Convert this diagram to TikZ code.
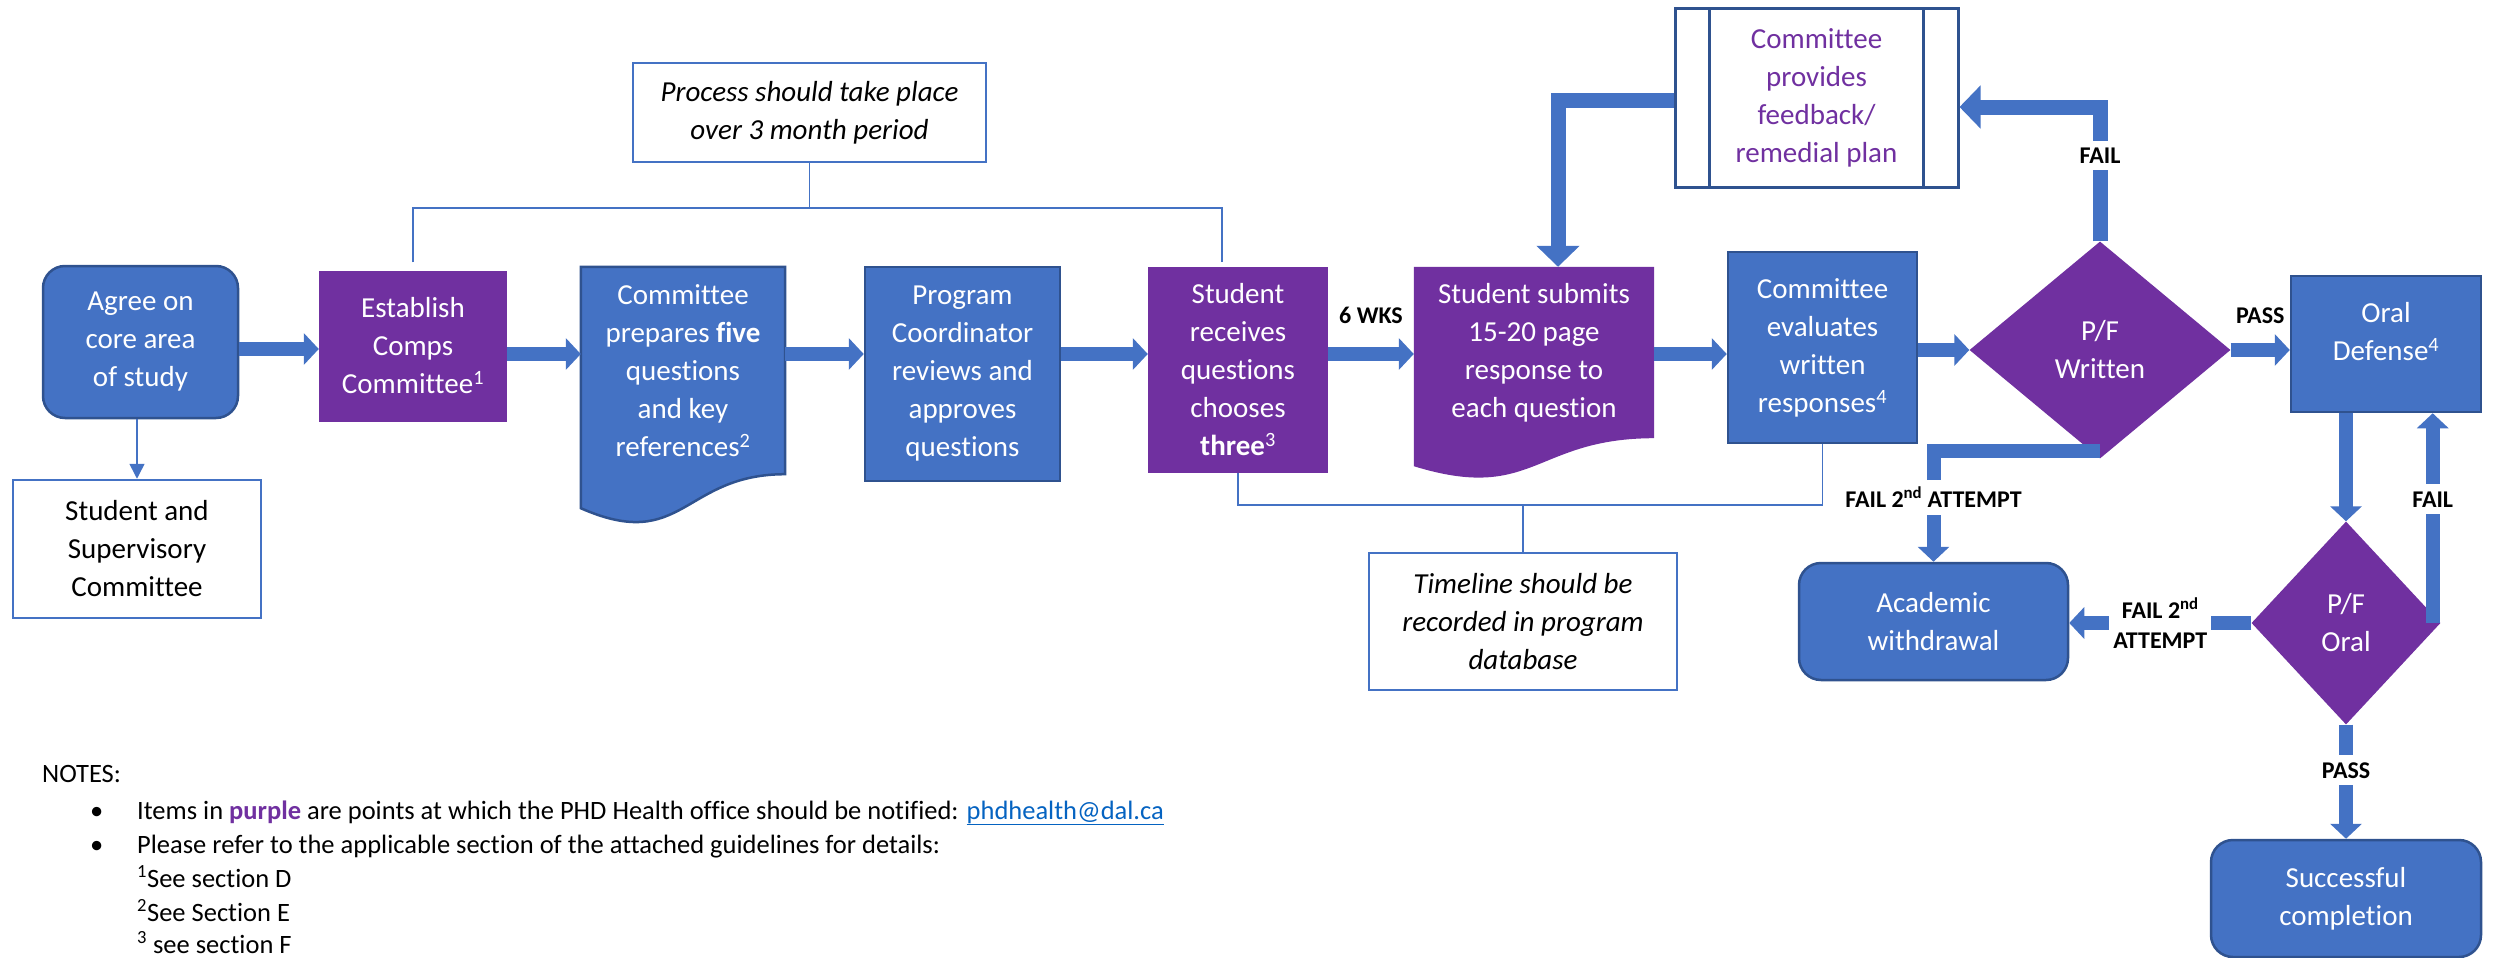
\documentclass[tikz,border=0pt]{standalone}
\usepackage{fontspec}
\setmainfont{Carlito}[Ligatures=CommonOff]
\usepackage{xcolor}
\usepackage{tikz}
\usetikzlibrary{calc,arrows.meta,shapes.geometric,positioning,backgrounds}
\definecolor{flowblue}{HTML}{4472C4}
\definecolor{flowedge}{HTML}{2F528F}
\definecolor{flowpurple}{HTML}{7030A0}
\definecolor{linkblue}{HTML}{0563C1}
\tikzset{
  boxfont/.style={font=\fontsize{29}{38}\selectfont},
  bluebox/.style={boxfont, fill=flowblue, draw=flowedge, line width=2.5pt, text=white, align=center, inner sep=0pt},
  roundbox/.style={bluebox, rounded corners=22pt},
  purplebox/.style={boxfont, fill=flowpurple, text=white, align=center, inner sep=0pt},
  doctext/.style={boxfont, text=white, align=center, inner sep=0pt},
  notebox/.style={boxfont, fill=white, draw=flowblue, line width=2.5pt, align=center, inner sep=0pt},
  decision/.style={boxfont, diamond, fill=flowpurple, text=white, align=center, inner sep=0pt},
  flowarrow/.style={draw=flowblue, line width=14pt, line join=miter, -{Triangle[length=15pt,width=31pt]}},
  looparrow/.style={draw=flowblue, line width=15pt, line join=miter, -{Triangle[length=21pt,width=42pt]}},
  bracket/.style={draw=flowblue, line width=1.5pt},
  flowtag/.style={font=\fontsize{24}{30}\selectfont\bfseries, fill=white, inner xsep=4pt, inner ysep=7pt, align=center},
  notetext/.style={font=\fontsize{26.5}{35}\selectfont, anchor=base west, inner sep=0pt},
}

\begin{document}
\begin{tikzpicture}[x=1pt,y=-1pt]
  \useasboundingbox (0,0) rectangle (2497,958);

  % main row
  \node[roundbox, minimum width=195pt, minimum height=152pt] (agree) at (140.5,342) {Agree on\\core area\\of study};
  \node[notebox, minimum width=248pt, minimum height=138pt] (sup) at (137,549) {Student and\\Supervisory\\Committee};
  \node[purplebox, minimum width=188pt, minimum height=151pt] (establish) at (413,346) {Establish\\Comps\\Committee\textsuperscript{1}};
  \node[doctext, minimum width=204pt, minimum height=207pt] (prepares) at (683,370.5) {Committee\\prepares \textbf{five}\\questions\\and key\\references\textsuperscript{2}};
  \node[bluebox, minimum width=195pt, minimum height=214pt] (program) at (962.5,374) {Program\\Coordinator\\reviews and\\approves\\questions};
  \node[purplebox, minimum width=180pt, minimum height=206pt] (receives) at (1238,370) {Student\\receives\\questions\\chooses\\\textbf{three}\textsuperscript{3}};
  \node[doctext, minimum width=240pt, minimum height=171pt] (submits) at (1534,352.5) {Student submits\\15-20 page\\response to\\each question};
  \node[bluebox, minimum width=189pt, minimum height=191pt] (evaluates) at (1822.5,347.5) {Committee\\evaluates\\written\\responses\textsuperscript{4}};
  \node[decision, minimum width=261pt, minimum height=217pt] (pfw) at (2100,350) {P/F\\Written};
  \node[bluebox, minimum width=190pt, minimum height=136pt] (oral) at (2386,344) {};
  \node[doctext] (oraltext) at ([yshift=12pt]oral.center) {Oral\\Defense\textsuperscript{4}};

  % document shapes
  \begin{scope}[on background layer]
    \draw[fill=flowblue, draw=flowedge, line width=2.5pt] (prepares.north west) -- (prepares.north east) -- (prepares.south east)
      .. controls (prepares.south) and ($(prepares.south)+(0,79)$) .. ($(prepares.south west)+(0,34)$) -- cycle;
    \fill[flowpurple] (submits.north west) -- (submits.north east) -- (submits.south east)
      .. controls (submits.south) and ($(submits.south)+(0,65)$) .. ($(submits.south west)+(0,28)$) -- cycle;
  \end{scope}

  % notes and feedback
  \node[boxfont, draw=flowedge, line width=3pt, fill=white, text=flowpurple, align=center, inner sep=0pt,
    minimum width=283pt, minimum height=178pt] (provides) at (1816.5,98) {Committee\\provides\\feedback/\\remedial plan};
  \draw[draw=flowedge, line width=3pt] ([xshift=36pt]provides.north west) -- ([xshift=36pt]provides.south west);
  \draw[draw=flowedge, line width=3pt] ([xshift=-36pt]provides.north east) -- ([xshift=-36pt]provides.south east);
  \node[notebox, font=\fontsize{29}{38}\selectfont\itshape, minimum width=353pt, minimum height=99pt] (process) at (809.5,112.5) {Process should take place\\over 3 month period};
  \node[notebox, font=\fontsize{29}{38}\selectfont\itshape, minimum width=308pt, minimum height=137pt] (timeline) at (1523,621.5) {Timeline should be\\recorded in program\\database};

  % outcomes
  \node[roundbox, minimum width=269pt, minimum height=117pt] (withdrawal) at (1933.5,621.5) {Academic\\withdrawal};
  \node[decision, minimum width=189pt, minimum height=203pt] (pfo) at (2346,623) {P/F\\Oral};
  \node[roundbox, minimum width=270pt, minimum height=117pt] (success) at (2346,898.5) {Successful\\completion};

  % block arrows
  \coordinate (row) at (0,354);
  \draw[flowarrow] (agree.east |- 0,349) -- (establish.west |- 0,349);
  \draw[flowarrow] (establish.east |- row) -- (prepares.west |- row);
  \draw[flowarrow] (prepares.east |- row) -- (program.west |- row);
  \draw[flowarrow] (program.east |- row) -- (receives.west |- row);
  \draw[flowarrow] (receives.east |- row) -- node[flowtag, fill=none, above=16pt] (sixwks) {6 WKS} (submits.west |- row);
  \draw[flowarrow] (submits.east |- row) -- (evaluates.west |- row);
  \draw[flowarrow] (evaluates.east |- pfw.west) -- (pfw.west);
  \draw[flowarrow] (pfw.east) -- node[flowtag, fill=none, above=12pt] (passw) {PASS} (oral.west |- pfw.east);

  \draw[looparrow] (pfw.north) |- node[flowtag, pos=0.32] (failw) {FAIL} ([yshift=-9pt]provides.east);
  \draw[looparrow] ([yshift=-2pt]provides.west) -| ([xshift=24pt]submits.north);
  \draw[flowarrow] ([yshift=8pt]pfw.south) -| node[flowtag, pos=0.71] (failtwow) {FAIL 2\textsuperscript{nd} ATTEMPT} (withdrawal.north);

  \draw[flowarrow] (pfo.north |- oral.south) -- (pfo.north);
  \draw[flowarrow] ([xshift=-8pt]pfo.east) -- node[flowtag, pos=0.59] (failo) {FAIL} ([xshift=-8pt]pfo.east |- oral.south);
  \draw[flowarrow] (pfo.west) -- node[flowtag] (failtwoo) {FAIL 2\textsuperscript{nd}\\ATTEMPT} (withdrawal.east |- pfo.west);
  \draw[flowarrow] (pfo.south) -- node[flowtag, pos=0.4] (passo) {PASS} (success.north);

  % thin connectors
  \draw[bracket, -{Triangle[length=15pt,width=15pt]}] (sup.north |- agree.south) -- (sup.north);
  \coordinate (topbar) at (809.5,208);
  \draw[bracket] (process.south) -- (topbar);
  \draw[bracket] ([yshift=8pt]establish.north) |- (topbar) -| ([xshift=-16pt,yshift=5pt]receives.north);
  \coordinate (lowbar) at (1523,505);
  \draw[bracket] (receives.south) |- (lowbar) -| (evaluates.south);
  \draw[bracket] (lowbar) -- (timeline.north);

  % notes
  \node[notetext] (notes) at (42,782) {NOTES:};
  \node[notetext] (bulleta) at (90,819) {\textbullet};
  \node[notetext] (notea) at (137,819) {Items in \textcolor{flowpurple}{\textbf{purple}} are points at which the PHD Health office should be notified: \textcolor{linkblue}{\underline{phdhealth@dal.ca}}};
  \node[notetext] (bulletb) at (90,853) {\textbullet};
  \node[notetext] (noteb) at (137,853) {Please refer to the applicable section of the attached guidelines for details:};
  \node[notetext] (notec) at (137,887) {\textsuperscript{1}See section D};
  \node[notetext] (noted) at (137,921) {\textsuperscript{2}See Section E};
  \node[notetext] (notee) at (137,953) {\textsuperscript{3} see section F};
\end{tikzpicture}
\end{document}
